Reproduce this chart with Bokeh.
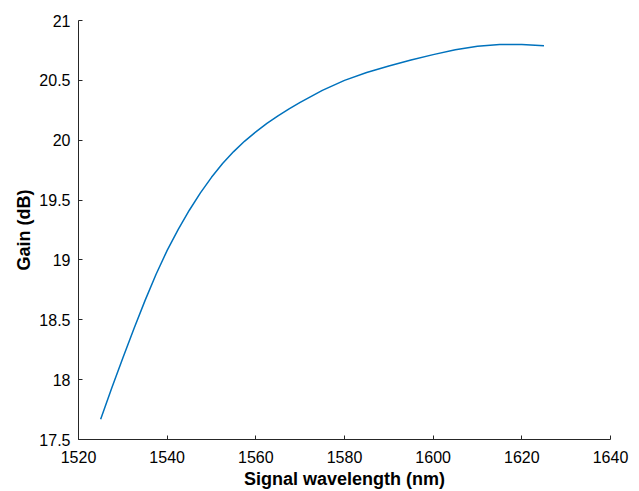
from bokeh.plotting import figure
from bokeh.models import Range1d, FixedTicker
from bokeh.embed import file_html
from bokeh.resources import INLINE

wavelength = [1525, 1527.5, 1530, 1532.5, 1535, 1537.5, 1540, 1542.5, 1545, 1547.5,
              1550, 1552.5, 1555, 1557.5, 1560, 1562.5, 1565, 1567.5, 1570, 1575,
              1580, 1585, 1590, 1595, 1600, 1605, 1610, 1615, 1620, 1625]
gain = [17.67, 17.93, 18.18, 18.425, 18.66, 18.88, 19.08, 19.255, 19.415, 19.56,
        19.69, 19.805, 19.905, 19.993, 20.07, 20.14, 20.203, 20.261, 20.316, 20.416,
        20.50, 20.565, 20.62, 20.67, 20.715, 20.755, 20.785, 20.80, 20.80, 20.79]

x_ticks = [1520, 1540, 1560, 1580, 1600, 1620, 1640]
y_ticks = [17.5, 18, 18.5, 19, 19.5, 20, 20.5, 21]
y_tick_labels = ["17.5", "18", "18.5", "19", "19.5", "20", "20.5", "21"]

p = figure(width=639, height=491, output_backend="svg", toolbar_location=None,
           x_range=Range1d(1520, 1640), y_range=Range1d(17.5, 21),
           min_border_left=78, min_border_right=29, min_border_top=20, min_border_bottom=52)
p.outline_line_color = None
p.xgrid.visible = False
p.ygrid.visible = False
p.background_fill_color = "white"
p.border_fill_color = "white"

p.line(wavelength, gain, line_color="#0072BD", line_width=1.5)

font = "Liberation Sans"
axc = "#262626"
for ax in (p.xaxis[0], p.yaxis[0]):
    ax.axis_line_color = axc
    ax.axis_line_width = 1
    ax.major_tick_line_color = axc
    ax.major_tick_in = 4
    ax.major_tick_out = 0
    ax.minor_tick_line_color = None
    ax.major_label_text_font = font
    ax.major_label_text_font_size = "16px"
    ax.major_label_text_color = "black"
    ax.axis_label_text_font = font
    ax.axis_label_text_font_size = "18px"
    ax.axis_label_text_font_style = "bold"
    ax.axis_label_text_color = "black"

p.xaxis.ticker = FixedTicker(ticks=x_ticks)
p.yaxis.ticker = FixedTicker(ticks=y_ticks)
p.yaxis.major_label_overrides = {t: s for t, s in zip(y_ticks, y_tick_labels)}
p.xaxis.axis_label = "Signal wavelength (nm)"
p.yaxis.axis_label = "Gain (dB)"
p.xaxis.major_label_standoff = 11
p.yaxis.major_label_standoff = 8
p.xaxis.axis_label_standoff = 3
p.yaxis.axis_label_standoff = 2

open("out.html", "w").write(file_html(p, INLINE))
